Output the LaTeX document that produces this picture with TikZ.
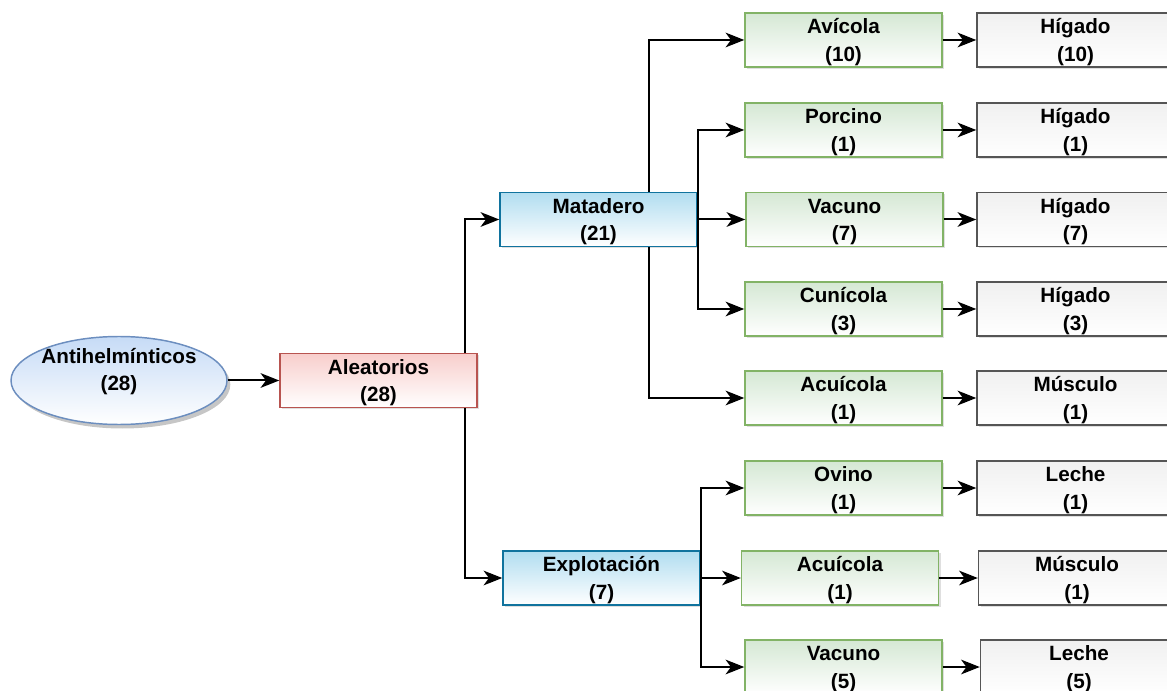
\documentclass[tikz,border=0pt]{standalone}
\usepackage{fontspec}
\setmainfont{Liberation Sans}
\usetikzlibrary{arrows.meta,shadows,calc,shapes.geometric}

\definecolor{blueFill}{HTML}{C6DBF6}
\definecolor{blueLine}{HTML}{6C8EBF}
\definecolor{redFill}{HTML}{F8CECC}
\definecolor{redLine}{HTML}{B85450}
\definecolor{cyanFill}{HTML}{B1DDF0}
\definecolor{cyanLine}{HTML}{10739E}
\definecolor{greenFill}{HTML}{D5E8D4}
\definecolor{greenLine}{HTML}{82B366}
\definecolor{grayFill}{HTML}{F0F0F0}
\definecolor{grayLine}{HTML}{555555}

% invisible strut that lowers the two-line labels a little inside their boxes
\newcommand{\lblstrut}{\rule{0pt}{14.5pt}}

\tikzset{
  txt/.style={font=\fontsize{15.5}{20.3}\selectfont\bfseries, align=center, text=black},
  boxbase/.style={txt, rectangle, line width=1.1pt, minimum width=147.75pt, minimum height=40.5pt,
    inner sep=0pt, drop shadow={shadow xshift=1.5pt, shadow yshift=-1.5pt, opacity=0.25}},
  redbox/.style={boxbase, draw=redLine, top color=redFill, bottom color=white},
  cyanbox/.style={boxbase, draw=cyanLine, top color=cyanFill, bottom color=white},
  greenbox/.style={boxbase, draw=greenLine, top color=greenFill, bottom color=white},
  graybox/.style={boxbase, draw=grayLine, top color=grayFill, bottom color=white},
  rootell/.style={ellipse, draw=blueLine, line width=1.1pt, top color=blueFill, bottom color=white,
    minimum width=162pt, minimum height=66pt, inner sep=0pt,
    drop shadow={shadow xshift=2.5pt, shadow yshift=-3pt, opacity=0.45}},
  link/.style={line width=1.5pt, -{Stealth[length=14pt,width=11pt,inset=4pt]}},
}

\begin{document}
\begin{tikzpicture}[x=0.75pt, y=-0.75pt]
  \useasboundingbox (0,0) rectangle (1167,691);
  \clip (0,0) rectangle (1167,691);

  % root and first level
  \node[rootell, label={[txt, yshift=7pt]center:Antihelmínticos\\(28)}] (ant) at (119,380.5) {};
  \node[redbox]  (ale) at (378.5,380.5) {\lblstrut Aleatorios\\(28)};
  \node[cyanbox] (mat) at (598.5,219.5) {\lblstrut Matadero\\(21)};
  \node[cyanbox] (exp) at (601.5,578)   {\lblstrut Explotación\\(7)};

  % species
  \node[greenbox] (avi)  at (843.5,40)    {\lblstrut Avícola\\(10)};
  \node[greenbox] (por)  at (843.5,130)   {\lblstrut Porcino\\(1)};
  \node[greenbox] (vac)  at (844.5,219.5) {\lblstrut Vacuno\\(7)};
  \node[greenbox] (cun)  at (843.5,309)   {\lblstrut Cunícola\\(3)};
  \node[greenbox] (acu)  at (843.5,398)   {\lblstrut Acuícola\\(1)};
  \node[greenbox] (ovi)  at (843.5,488)   {\lblstrut Ovino\\(1)};
  \node[greenbox] (acuB) at (840,578)     {\lblstrut Acuícola\\(1)};
  \node[greenbox] (vacB) at (843.5,667)   {\lblstrut Vacuno\\(5)};

  % matrices
  \node[graybox] (hA) at (1075.5,40)    {\lblstrut Hígado\\(10)};
  \node[graybox] (hB) at (1075.5,130)   {\lblstrut Hígado\\(1)};
  \node[graybox] (hC) at (1075.5,219.5) {\lblstrut Hígado\\(7)};
  \node[graybox] (hD) at (1075.5,309)   {\lblstrut Hígado\\(3)};
  \node[graybox] (mA) at (1075.5,398)   {\lblstrut Músculo\\(1)};
  \node[graybox] (lA) at (1075.5,488)   {\lblstrut Leche\\(1)};
  \node[graybox] (mB) at (1077,578)     {\lblstrut Músculo\\(1)};
  \node[graybox] (lB) at (1079,667)     {\lblstrut Leche\\(5)};

  % connectors
  \draw[link] (ant.east) -- (ale.west);
  \draw[link] ([xshift=-9.75pt]ale.north east) |- (mat.west);
  \draw[link] ([xshift=-9.75pt]ale.south east) |- (exp.west);

  \draw[link] ([xshift=-36.75pt]mat.north east) |- (avi.west);
  \draw[link] (mat.east) |- (por.west);
  \draw[link] (mat.east) -- (vac.west);
  \draw[link] (mat.east) |- (cun.west);
  \draw[link] ([xshift=-36.75pt]mat.south east) |- (acu.west);

  \draw[link] (exp.east) |- (ovi.west);
  \draw[link] (exp.east) -- (acuB.west);
  \draw[link] (exp.east) |- (vacB.west);

  \draw[link] (avi.east)  -- (hA.west);
  \draw[link] (por.east)  -- (hB.west);
  \draw[link] (vac.east)  -- (hC.west);
  \draw[link] (cun.east)  -- (hD.west);
  \draw[link] (acu.east)  -- (mA.west);
  \draw[link] (ovi.east)  -- (lA.west);
  \draw[link] (acuB.east) -- (mB.west);
  \draw[link] (vacB.east) -- (lB.west);
\end{tikzpicture}
\end{document}
